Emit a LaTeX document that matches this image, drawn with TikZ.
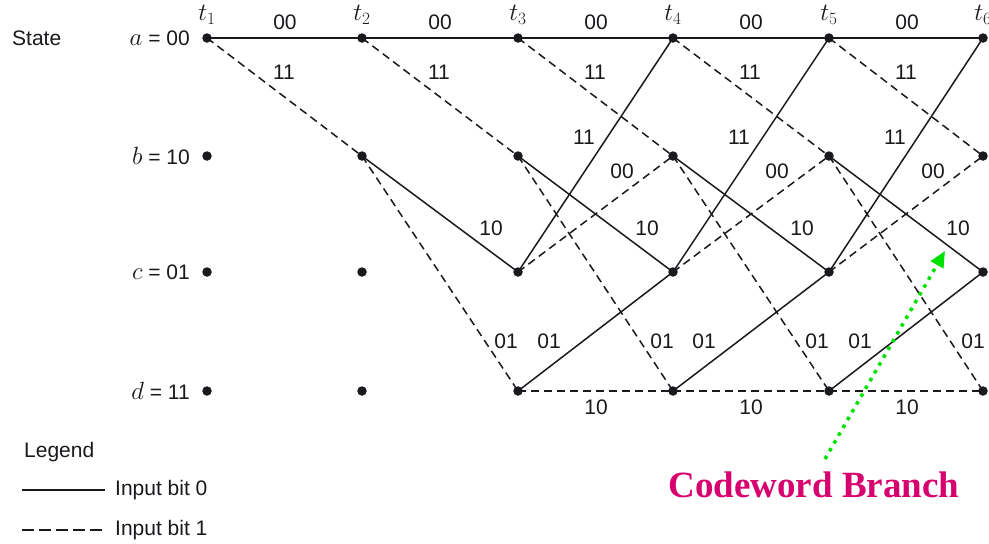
\documentclass[tikz,border=0pt]{standalone}
\usepackage{fontspec}
\setmainfont{Liberation Sans}
\newfontfamily\serifb{Liberation Serif}
\usetikzlibrary{arrows.meta}
\definecolor{ink}{RGB}{25,25,30}
\definecolor{brmag}{RGB}{214,0,110}
\definecolor{argreen}{RGB}{0,225,0}
\begin{document}
\begin{tikzpicture}[x=1pt,y=-1pt,
  dotnode/.style={circle,fill=ink,inner sep=0pt,minimum size=9.5pt},
  zero/.style={draw=ink,line width=1.5pt},
  one/.style={draw=ink,line width=1.5pt,dash pattern=on 8pt off 5pt},
  legone/.style={draw=ink,line width=1.5pt,dash pattern=on 12pt off 5pt},
  lbl/.style={font=\fontsize{21}{24}\selectfont,text=ink,inner sep=0pt},
  tlbl/.style={font=\fontsize{24}{26}\selectfont,text=ink,inner sep=0pt},
  brtext/.style={font=\serifb\bfseries\fontsize{37}{40}\selectfont,text=brmag,inner sep=0pt},
  greenarrow/.style={draw=argreen,line width=3.5pt,dash pattern=on 3.5pt off 5.5pt,-{Triangle[length=16pt,width=14pt]}}]
\useasboundingbox[fill=white] (0,0) rectangle (989,544);

% trellis nodes
\foreach \i/\x in {1/207,2/362,3/518,4/673,5/829,6/983} {
  \foreach \r/\y in {a/38,b/156,c/272,d/391} {
    \node[dotnode] (\r\i) at (\x,\y) {};
  }
  \node[tlbl] (t\i) at (\x,15) {$t_{\i}$};
}

% state labels
\node[lbl,anchor=west] (state) at (12,38) {State};
\node[lbl,anchor=east] (sa) at (190,38) {{\fontsize{25}{26}\selectfont$a$} = 00};
\node[lbl,anchor=east] (sb) at (190,156) {{\fontsize{25}{26}\selectfont$b$} = 10};
\node[lbl,anchor=east] (sc) at (190,272) {{\fontsize{25}{26}\selectfont$c$} = 01};
\node[lbl,anchor=east] (sd) at (190,391) {{\fontsize{25}{26}\selectfont$d$} = 11};

% branches t1 -> t2
\draw[zero] (a1.center) -- (a2.center);
\draw[one] (a1.center) -- (b2.center);
% branches t2 -> t3
\draw[zero] (a2.center) -- (a3.center);
\draw[one] (a2.center) -- (b3.center);
\draw[zero] (b2.center) -- (c3.center);
\draw[one] (b2.center) -- (d3.center);
% branches t3 .. t6
\foreach \i/\j in {3/4,4/5,5/6} {
  \draw[zero] (a\i.center) -- (a\j.center);
  \draw[one] (a\i.center) -- (b\j.center);
  \draw[zero] (b\i.center) -- (c\j.center);
  \draw[one] (b\i.center) -- (d\j.center);
  \draw[zero] (c\i.center) -- (a\j.center);
  \draw[one] (c\i.center) -- (b\j.center);
  \draw[zero] (d\i.center) -- (c\j.center);
  \draw[one] (d\i.center) -- (d\j.center);
}

% branch labels
\foreach \i/\x in {1/207,2/362,3/518,4/673,5/829} {
  \node[lbl] (laa\i) at (\x+78,22) {00};
  \node[lbl] (lab\i) at (\x+77,72) {11};
}
\foreach \i/\x in {2/362,3/518,4/673,5/829} {
  \node[lbl] (lbc\i) at (\x+129,228) {10};
  \node[lbl] (lbd\i) at (\x+144,341) {01};
}
\foreach \i/\x in {3/518,4/673,5/829} {
  \node[lbl] (lca\i) at (\x+66,137) {11};
  \node[lbl] (lcb\i) at (\x+104,171) {00};
  \node[lbl] (ldc\i) at (\x+31,341) {01};
  \node[lbl] (ldd\i) at (\x+78,407) {10};
}

% legend
\node[lbl,anchor=west] (legend) at (24,452) {Legend};
\coordinate (lz1) at (22,490);
\coordinate (lz2) at (105,490);
\coordinate (lo1) at (22,530);
\coordinate (lo2) at (105,530);
\draw[zero] (lz1) -- (lz2);
\draw[legone] (lo1) -- (lo2);
\node[lbl,anchor=west] (lzt) at (115,490) {Input bit 0};
\node[lbl,anchor=west] (lot) at (115,530) {Input bit 1};

% annotation
\node[brtext] (cwb) at (814,485) {Codeword Branch};
\coordinate (gs) at (825,459);
\coordinate (ge) at (945,251);
\draw[greenarrow] (gs) -- (ge);
\end{tikzpicture}
\end{document}
